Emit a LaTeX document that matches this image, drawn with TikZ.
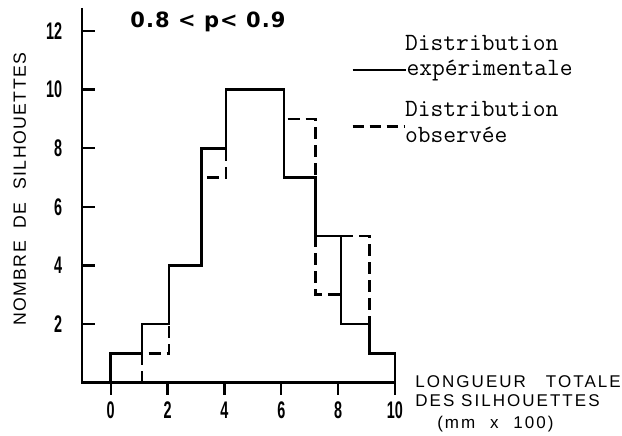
\documentclass[tikz,border=0pt]{standalone}
\usepackage{fontspec}
\newfontfamily\ticknum[FakeStretch=0.6]{Liberation Sans Bold}
\newfontfamily\titlefont[LetterSpace=5]{DejaVu Sans}
\newfontfamily\axisfont[LetterSpace=12]{Liberation Sans}
\newfontfamily\yaxisfont[LetterSpace=8]{Liberation Sans}

\tikzset{
  histo/.style={line width=2.6pt, line join=miter},
  obs/.style={line width=2.6pt, dash pattern=on 12pt off 6pt},
  axisline/.style={line width=2.4pt},
  ticklabel/.style={font=\fontsize{24}{24}\selectfont\ticknum, inner sep=0pt},
  legendtext/.style={font=\fontsize{24.8}{24.8}\selectfont\ttfamily, anchor=base west, inner sep=0pt},
  axislabel/.style={font=\fontsize{17}{17}\selectfont\axisfont, anchor=base west, inner sep=0pt}
}

\begin{document}
\begin{tikzpicture}[x=28.43pt, y=29.3pt]
   \useasboundingbox (-3.894,-1.819) rectangle (17.985,13.061);

   % axes
   \coordinate (O) at (-1,0);
   \coordinate (ytop) at (-1,12.79);
   \coordinate (xend) at (10,0);
   \draw[axisline] (ytop) -- (O) -- (xend);

   \foreach \y in {2,4,...,12}
     {\draw[axisline] (-1,\y) -- ++(13pt,0);
      \node[ticklabel, anchor=east] (y\y) at (-1.70,\y) {\y};}
   \foreach \x in {0,2,...,10}
     {\draw[axisline] (\x,0) -- ++(0,-12pt);
      \node[ticklabel, anchor=north] (x\x) at (\x,-0.64) {\x};}

   \node[font=\fontsize{17.7}{17.7}\selectfont\yaxisfont, rotate=90, anchor=base, inner sep=0pt] (ylabel) at (-2.98,6.6) {NOMBRE\ \ DE\ \ SILHOUETTES};
   \node[axislabel] (xlabel1) at (10.71,-0.18) {LONGUEUR\hspace{20pt}TOTALE};
   \node[axislabel] (xlabel2) at (10.71,-0.83) {DES SILHOUETTES};
   \node[axislabel] (xlabel3) at (11.48,-1.55) {(mm\hspace{8pt} x\hspace{8pt} 100)};

   \node[font=\fontsize{21}{21}\selectfont\titlefont\bfseries, inner sep=0pt] (title) at (3.42,12.31) {0.8 < p< 0.9};

   % observed, then experimental on top
   \draw[obs] (1.1,0) -- (1.1,1) -- (2.05,1) -- (2.05,4) -- (3.2,4) -- (3.2,7) -- (4.05,7) -- (4.05,10)
      -- (6.1,10) -- (6.1,9) -- (7.2,9) -- (7.2,3) -- (8.1,3) -- (8.1,5) -- (9.1,5) -- (9.1,1);
   \draw[histo] (0,0) -- (0,1) -- (1.1,1) -- (1.1,2) -- (2.05,2) -- (2.05,4) -- (3.2,4) -- (3.2,8) -- (4.05,8)
      -- (4.05,10) -- (6.1,10) -- (6.1,7) -- (7.2,7) -- (7.2,5) -- (8.1,5) -- (8.1,2) -- (9.1,2) -- (9.1,1)
      -- (10,1) -- (10,0);

   % legend
   \node[legendtext] (exp1) at (10.35,11.35) {Distribution};
   \node[legendtext] (exp2) at (10.40,10.48) {exp\'erimentale};
   \node[legendtext] (obs1) at (10.35,9.07) {Distribution};
   \node[legendtext] (obs2) at (10.35,8.21) {observ\'ee};
   \coordinate (expA) at (8.51,10.67);
   \coordinate (obsA) at (8.51,8.74);
   \draw[histo] (expA) -- (expA -| exp2.west);
   \draw[obs, dash pattern=on 11pt off 6pt] (obsA) -- (obsA -| obs2.west);

\end{tikzpicture}
\end{document}
